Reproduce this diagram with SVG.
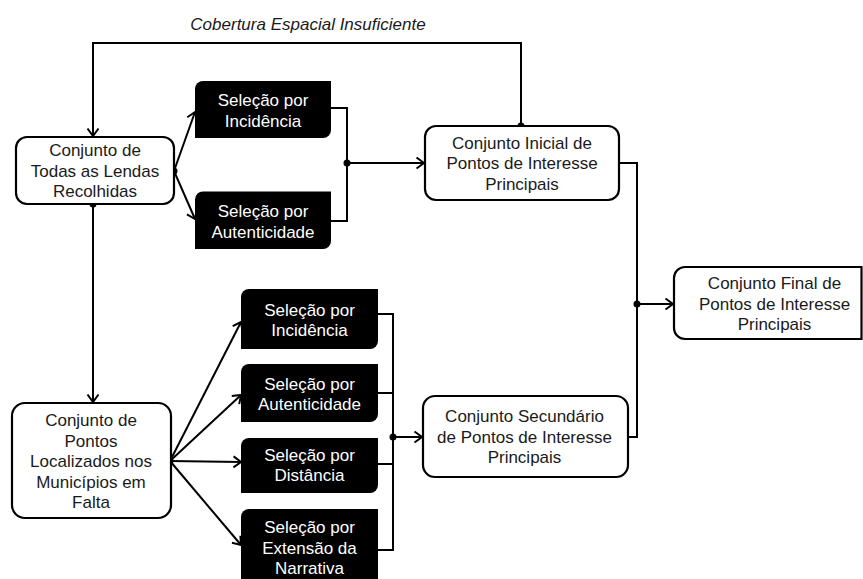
<svg xmlns="http://www.w3.org/2000/svg" width="863" height="579" viewBox="0 0 863 579">
<style>
  text { font-family: "Liberation Sans", Arial, sans-serif; font-size: 17px; fill: #1a1a1a; text-anchor: middle; }
  .node { fill: #ffffff; stroke: #000000; stroke-width: 2.2; }
  .sel { fill: #000000; stroke: none; }
  .sel-text { fill: #ffffff; }
  .conn { fill: none; stroke: #000000; stroke-width: 2; }
  .arrow { marker-end: url(#open-arrow); }
  .dot { fill: #000000; }
  .label { font-style: italic; }
</style>
<defs>
  <marker id="open-arrow" markerUnits="userSpaceOnUse" markerWidth="14" markerHeight="14" refX="10" refY="7" orient="auto">
    <path d="M2.5,1.5 L10,7 L2.5,12.5" fill="none" stroke="#000000" stroke-width="2"/>
  </marker>
</defs>
<rect width="863" height="579" fill="#ffffff"/>

<g id="connectors">
  <path class="conn arrow" d="M521,126 V43 H93 V136"/>
  <circle class="dot" cx="521" cy="126" r="3.5"/>
  <text class="label" x="308" y="30">Cobertura Espacial Insuficiente</text>

  <path class="conn arrow" d="M174,171 L195,112"/>
  <path class="conn arrow" d="M174,171 L195,219"/>
  <circle class="dot" cx="174" cy="171" r="3.5"/>

  <path class="conn" d="M331,108 H347 V221 H331"/>
  <path class="conn arrow" d="M347,163 H424"/>
  <circle class="dot" cx="347" cy="163" r="3.5"/>

  <path class="conn arrow" d="M93,204 V402"/>
  <circle class="dot" cx="93" cy="204" r="3.5"/>

  <path class="conn arrow" d="M170,461 L241,322"/>
  <path class="conn arrow" d="M170,461 L241,395"/>
  <path class="conn arrow" d="M170,461 L241,462"/>
  <path class="conn arrow" d="M170,461 L241,545"/>
  <circle class="dot" cx="170" cy="461" r="3.5"/>

  <path class="conn" d="M378,314 H393 V550 H378"/>
  <path class="conn" d="M378,393 H393"/>
  <path class="conn" d="M378,464 H393"/>
  <path class="conn arrow" d="M393,437 H422"/>
  <circle class="dot" cx="393" cy="437" r="3.5"/>

  <path class="conn" d="M619,163 H637 V437 H628"/>
  <path class="conn arrow" d="M637,304 H673"/>
  <circle class="dot" cx="637" cy="304" r="3.5"/>
</g>

<g id="todas-lendas">
  <rect class="node" x="16" y="137" width="158" height="67" rx="11"/>
  <text x="95" y="156">Conjunto de</text>
  <text x="95" y="176.5">Todas as Lendas</text>
  <text x="95" y="197">Recolhidas</text>
</g>

<g id="sel-incidencia-1">
  <path class="sel" d="M195,138 V89 A8,8 0 0 1 203,81 H331 V130 A8,8 0 0 1 323,138 Z"/>
  <text class="sel-text" x="263" y="106">Seleção por</text>
  <text class="sel-text" x="263" y="126.5">Incidência</text>
</g>

<g id="sel-autenticidade-1">
  <path class="sel" d="M195,249 V199.5 A8,8 0 0 1 203,191.5 H331 V241 A8,8 0 0 1 323,249 Z"/>
  <text class="sel-text" x="263" y="217">Seleção por</text>
  <text class="sel-text" x="263" y="237.5">Autenticidade</text>
</g>

<g id="conjunto-inicial">
  <rect class="node" x="425" y="126" width="194" height="74" rx="11"/>
  <text x="522" y="148.5">Conjunto Inicial de</text>
  <text x="522" y="169">Pontos de Interesse</text>
  <text x="522" y="189.5">Principais</text>
</g>

<g id="conjunto-final">
  <path class="node" d="M861.5,267 H685 A11,11 0 0 0 674,278 V328 A11,11 0 0 0 685,339 H861.5 Z"/>
  <text x="774.5" y="289">Conjunto Final de</text>
  <text x="774.5" y="309.5">Pontos de Interesse</text>
  <text x="774.5" y="330">Principais</text>
</g>

<g id="pontos-localizados">
  <rect class="node" x="12" y="403" width="159" height="115" rx="13"/>
  <text x="91" y="426">Conjunto de</text>
  <text x="91" y="446.5">Pontos</text>
  <text x="91" y="467">Localizados nos</text>
  <text x="91" y="487.5">Municípios em</text>
  <text x="91" y="508">Falta</text>
</g>

<g id="sel-incidencia-2">
  <path class="sel" d="M241,349 V297 A8,8 0 0 1 249,289 H378 V341 A8,8 0 0 1 370,349 Z"/>
  <text class="sel-text" x="309.5" y="315.5">Seleção por</text>
  <text class="sel-text" x="309.5" y="336">Incidência</text>
</g>

<g id="sel-autenticidade-2">
  <path class="sel" d="M241,422 V372 A8,8 0 0 1 249,364 H378 V414 A8,8 0 0 1 370,422 Z"/>
  <text class="sel-text" x="309.5" y="389.5">Seleção por</text>
  <text class="sel-text" x="309.5" y="410">Autenticidade</text>
</g>

<g id="sel-distancia">
  <path class="sel" d="M241,493 V446 A8,8 0 0 1 249,438 H378 V485 A8,8 0 0 1 370,493 Z"/>
  <text class="sel-text" x="309.5" y="460.5">Seleção por</text>
  <text class="sel-text" x="309.5" y="481">Distância</text>
</g>

<g id="sel-extensao">
  <path class="sel" d="M241,590 V517 A8,8 0 0 1 249,509 H378 V582 A8,8 0 0 1 370,590 Z"/>
  <text class="sel-text" x="309.5" y="533">Seleção por</text>
  <text class="sel-text" x="309.5" y="553.5">Extensão da</text>
  <text class="sel-text" x="309.5" y="574">Narrativa</text>
</g>

<g id="conjunto-secundario">
  <rect class="node" x="423" y="396" width="205" height="81" rx="12"/>
  <text x="524.5" y="422">Conjunto Secundário</text>
  <text x="524.5" y="442.5">de Pontos de Interesse</text>
  <text x="524.5" y="463">Principais</text>
</g>
</svg>
